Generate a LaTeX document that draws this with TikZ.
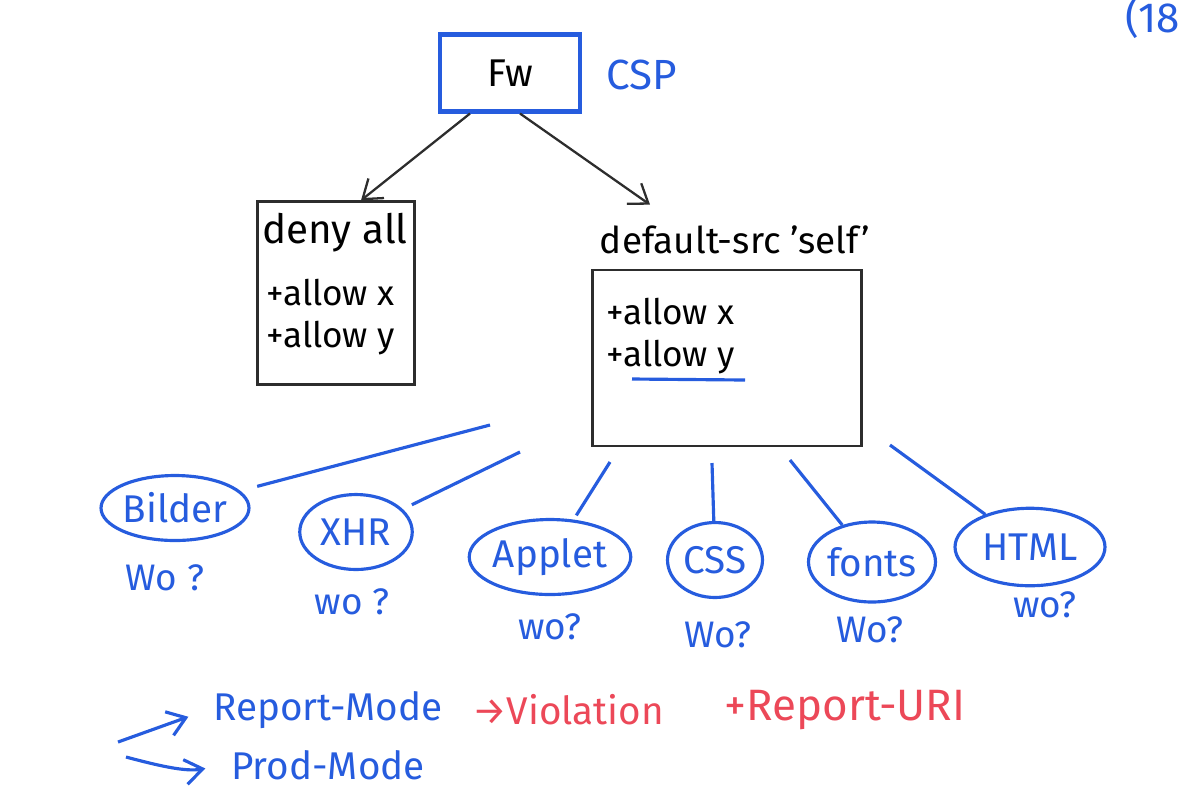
\documentclass[tikz,border=0pt]{standalone}
\usepackage{fontspec}
\setmainfont{Fira Sans}
\usepackage{tikz}
\usetikzlibrary{positioning,arrows,arrows.meta,shapes}
\definecolor{penblue}{RGB}{38,92,222}
\definecolor{penred}{RGB}{236,72,88}
\definecolor{penblack}{RGB}{45,45,45}

\begin{document}
\begin{tikzpicture}[x=0.02cm,y=-0.02cm]
	\tikzset{every node/.style={font=\fontsize{20}{24}\selectfont},
		pen/.style={draw=penblack,line width=1.3pt},
		blue pen/.style={draw=penblue,line width=1.8pt},
		barb/.style={-{Straight Barb[length=3.5mm,width=5mm]}},
		topic/.style 2 args={ellipse,draw=penblue,line width=1.8pt,text=penblue,inner sep=0pt,minimum width=#1,minimum height=#2,font=\fontsize{22}{26}\selectfont},
		where/.style={text=penblue,font=\fontsize{21}{25}\selectfont}}
	\useasboundingbox (0,0) rectangle (1186,796);
	\node [draw=penblue,line width=2.3pt,minimum width=2.8cm,minimum height=1.54cm,font=\fontsize{22}{26}\selectfont] (fw) at (510,73) {Fw};
	\node [text=penblue,font=\fontsize{24}{28}\selectfont] (csp) at (642,75) {CSP};
	\node [text=penblue,font=\fontsize{24}{28}\selectfont,anchor=east] (page) at (1186,18) {(18};
	% deny all box
	\node [pen,minimum width=3.14cm,minimum height=3.66cm] (deny) at (336,293) {};
	\node [font=\fontsize{23}{27}\selectfont] (denyall) at (335,233) {deny all};
	\node [anchor=west] (dx) at (260,293) {+allow x};
	\node [anchor=west] (dy) at (260,338) {+allow y};
	% default-src box
	\node [font=\fontsize{21}{25}\selectfont] (selfl) at (735,240) {default-src 'self'};
	\node [pen,minimum width=5.38cm,minimum height=3.52cm] (dbox) at (727,358) {};
	\node [anchor=west] (sx) at (600,312) {+allow x};
	\node [anchor=west] (sy) at (600,357) {+allow y};
	\draw [blue pen] (632,379) -- (745,380);
	\draw [pen,barb] ([xshift=-0.8cm]fw.south) -- ([xshift=0.5cm]deny.north);
	\draw [pen,barb] ([xshift=0.2cm]fw.south) -- ([shift={(-1.7cm,0.3cm)}]selfl.north);
	% resources
	\node [topic={2.5cm}{1.3cm}] (bilder) at (175,508) {Bilder};
	\node [topic={2.25cm}{1.5cm}] (xhr) at (356,532) {XHR};
	\node [topic={2.6cm}{1.5cm}] (applet) at (550,557) {Applet};
	\node [topic={1.9cm}{1.5cm}] (css) at (715,560) {CSS};
	\node [topic={2.3cm}{1.6cm}] (fonts) at (872,562) {fonts};
	\node [topic={3.0cm}{1.55cm}] (html) at (1030,547) {HTML};
	\coordinate (pB) at (490,425);
	\coordinate (pX) at (520,452);
	\coordinate (pA) at (610,462);
	\coordinate (pC) at (712,463);
	\coordinate (pF) at (790,460);
	\coordinate (pH) at (890,445);
	\draw [blue pen,shorten <=0.35cm] (bilder) -- (pB);
	\draw [blue pen,shorten <=0.2cm] (xhr) -- (pX);
	\draw [blue pen,shorten <=0.1cm] (applet) -- (pA);
	\draw [blue pen] (css) -- (pC);
	\draw [blue pen] (fonts) -- (pF);
	\draw [blue pen] (html) -- (pH);
	\node [where] (wB) at (165,578) {Wo ?};
	\node [where] (wX) at (352,602) {wo ?};
	\node [where] (wA) at (550,627) {wo?};
	\node [where] (wC) at (718,635) {Wo?};
	\node [where] (wF) at (870,630) {Wo?};
	\node [where] (wH) at (1045,605) {wo?};
	% modes
	\node [text=penblue,font=\fontsize{22}{26}\selectfont] (rep) at (328,710) {Report-Mode};
	\node [text=penred,font=\fontsize{22}{26}\selectfont] (viol) at (568,710) {→Violation};
	\node [text=penred,font=\fontsize{25}{29}\selectfont] (uri) at (845,710) {+Report-URI};
	\node [text=penblue,font=\fontsize{22}{26}\selectfont] (prod) at (328,765) {Prod-Mode};
	\coordinate (fork) at (118,742);
	\coordinate (fork2) at (126,757);
	\draw [blue pen,barb,shorten >=0.4cm] (fork) -- (rep.west);
	\draw [blue pen,barb,shorten >=0.4cm] (fork2) to[out=-15,in=190] (prod.west);
\end{tikzpicture}
\end{document}
